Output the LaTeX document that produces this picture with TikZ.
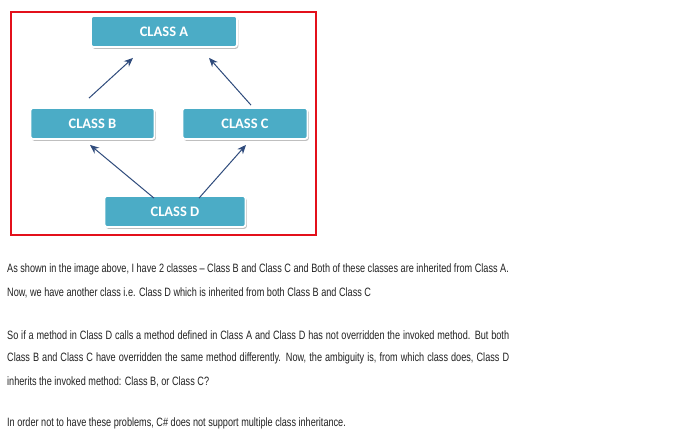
\documentclass[tikz,border=0pt]{standalone}
\usepackage{fontspec}
\setmainfont{Liberation Sans}
\newfontfamily\bodyfont[FakeStretch=0.755,Ligatures=TeX]{Liberation Sans}
\newfontfamily\boxfont{Carlito}
\usetikzlibrary{arrows.meta,shadows,calc}
\definecolor{boxblue}{HTML}{4BACC6}
\definecolor{arrowblue}{HTML}{2F4B7C}
\definecolor{framered}{HTML}{E3101B}
\definecolor{txt}{HTML}{222222}
\begin{document}
\begin{tikzpicture}[x=1pt,y=-1pt,
  classbox/.style={fill=boxblue, draw=white, line width=1.8pt, rounded corners=2.5pt,
    minimum height=31pt, inner sep=0pt, text=white,
    font=\boxfont\bfseries\fontsize{14.5}{15}\selectfont,
    drop shadow={shadow xshift=1.3pt, shadow yshift=-1.8pt, fill=black!50, opacity=0.5}},
  inh/.style={draw=arrowblue, line width=1pt, -{Stealth[length=9pt,width=7.5pt]}},
  line/.style={anchor=base west, inner sep=0pt, text=txt, font=\bodyfont\fontsize{12.1}{14}\selectfont}]
\useasboundingbox (0,0) rectangle (698,436);
\fill[white] (0,0) rectangle (698,436);
\draw[framered, line width=2pt] (11,12.5) rectangle (316,234.5);
\node[classbox, minimum width=146pt] (A) at (164,31.5) {CLASS A};
\node[classbox, minimum width=124pt] (B) at (92.5,123.5) {CLASS B};
\node[classbox, minimum width=125pt] (C) at (245,123.5) {CLASS C};
\node[classbox, minimum width=141pt] (D) at (175,211.5) {CLASS D};
\draw[inh] ($(B.north)+(-3.5,-9)$) -- ($(A.south)+(-31,10)$);
\draw[inh] ($(C.north)+(6,-2)$) -- ($(A.south)+(45,10)$);
\draw[inh] ($(D.north)+(-21,3)$) -- ($(B.south)+(-2.5,5)$);
\draw[inh] ($(D.north)+(24,3)$) -- ($(C.south)+(1,5)$);
\node[line] (l1) at (7,272) {As shown in the image above, I have 2 classes – Class B and Class C and Both of these classes are inherited from Class A.};
\node[line] (l2) at (7,296.7) {Now, we have another class i.e. Class D which is inherited from both Class B and Class C};
\node[line] (l3) at (7,339) {\makebox[502pt][s]{So if a method in Class D calls a method defined in Class A and Class D has not overridden the invoked method. But both}};
\node[line] (l4) at (7,361) {\makebox[502pt][s]{Class B and Class C have overridden the same method differently. Now, the ambiguity is, from which class does, Class D}};
\node[line] (l5) at (7,385) {inherits the invoked method: Class B, or Class C?};
\node[line] (l6) at (7,426) {In order not to have these problems, C\# does not support multiple class inheritance.};
\end{tikzpicture}
\end{document}
